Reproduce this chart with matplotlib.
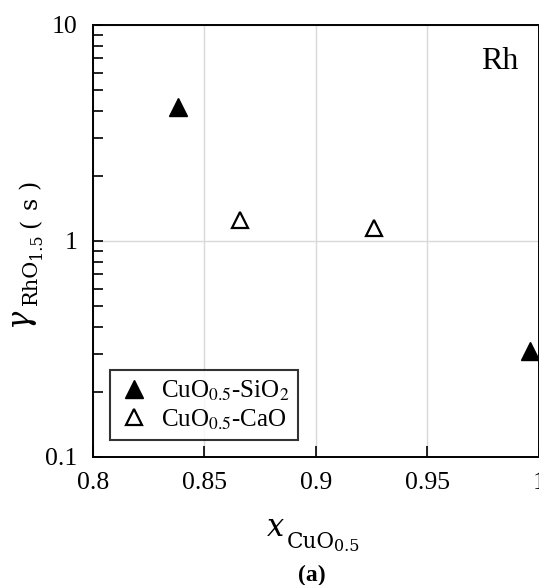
import matplotlib
matplotlib.use("Agg")
import matplotlib.pyplot as plt
from matplotlib.ticker import FixedLocator, NullFormatter, LogLocator

plt.rcParams['font.family'] = ['Liberation Serif', 'DejaVu Serif']
plt.rcParams['mathtext.fontset'] = 'stix'

# Data
sio2_x = [0.838, 0.996]
sio2_y = [4.16, 0.31]
cao_x = [0.866, 0.926]
cao_y = [1.25, 1.14]
series_labels = ["CuO$_{0.5}$-SiO$_{2}$", "CuO$_{0.5}$-CaO"]
xticks = [0.8, 0.85, 0.9, 0.95, 1.0]
xticklabels = ["0.8", "0.85", "0.9", "0.95", "1"]
yticks = [0.1, 1, 10]
yticklabels = ["0.1", "1", "10"]

W, H = 539, 585
fig = plt.figure(figsize=(W / 100, H / 100), dpi=100)
ax = fig.add_axes([0.1724, 0.2193, 0.8269, 0.7385])

ax.plot(sio2_x, sio2_y, linestyle='none', marker='^', ms=12.5, mfc='black',
        mec='black', mew=1.0, label=series_labels[0], zorder=3)
ax.plot(cao_x, cao_y, linestyle='none', marker='^', ms=12, mfc='white',
        mec='black', mew=1.6, label=series_labels[1], zorder=3)

ax.set_yscale('log')
ax.set_xlim(0.8, 1.0)
ax.set_ylim(0.1, 10)
ax.set_xticks(xticks)
ax.set_xticklabels(xticklabels)
ax.yaxis.set_major_locator(FixedLocator(yticks))
ax.set_yticklabels(yticklabels)
ax.yaxis.set_minor_locator(LogLocator(base=10, subs=[2, 3, 4, 5, 6, 7, 8, 9]))
ax.yaxis.set_minor_formatter(NullFormatter())

ax.tick_params(axis='both', which='both', direction='in', labelsize=18.5,
               top=False, right=False, color='black')
ax.tick_params(axis='x', which='major', length=8, width=1.2, pad=11)
ax.tick_params(axis='y', which='major', length=7, width=1.2, pad=11)
ax.tick_params(axis='y', which='minor', length=7, width=1.2)
ax.tick_params(axis='x', which='minor', bottom=False)

ax.grid(True, which='major', color='#d9d9d9', linewidth=1.0, zorder=0)
ax.set_axisbelow(True)
for s in ax.spines.values():
    s.set_linewidth(1.4)
    s.set_color('black')

ax.text(0.954, 0.897, "Rh", transform=ax.transAxes, ha='right',
        va='baseline', fontsize=23)

leg = ax.legend(loc='lower left', bbox_to_anchor=(0.038, 0.038),
                borderaxespad=0, fontsize=18, frameon=True, fancybox=False,
                edgecolor='black', handlelength=1.2, handletextpad=0.5,
                labelspacing=0.15, borderpad=0.35)
leg.get_frame().set_linewidth(1.5)


def piece(txt, px, py, size, style='normal', rot=0):
    fig.text(px / W, 1 - py / H, txt, fontsize=size, family='DejaVu Serif',
             style=style, ha='left', va='baseline', rotation=rot,
             rotation_mode='anchor')


# x-axis label: x_{CuO_{0.5}}
piece("x", 267, 536, 22, style='italic')
piece("CuO", 287, 548, 15.5)
piece("0.5", 334, 551, 11.5)

# y-axis label: gamma_{RhO_{1.5}} (s)
piece("\u03b3", 27, 327, 22, style='italic', rot=90)
piece("RhO", 37, 305, 15, rot=90)
piece("1.5", 41, 259, 11.5, rot=90)
piece("(", 37, 228, 17, rot=90)
piece("s", 37, 209, 17, rot=90)
piece(")", 37, 189, 17, rot=90)

fig.text(0.578, 0.017, "(a)", ha='center', va='center', fontsize=17,
         fontweight='bold')

fig.savefig("out.png", dpi=100)
